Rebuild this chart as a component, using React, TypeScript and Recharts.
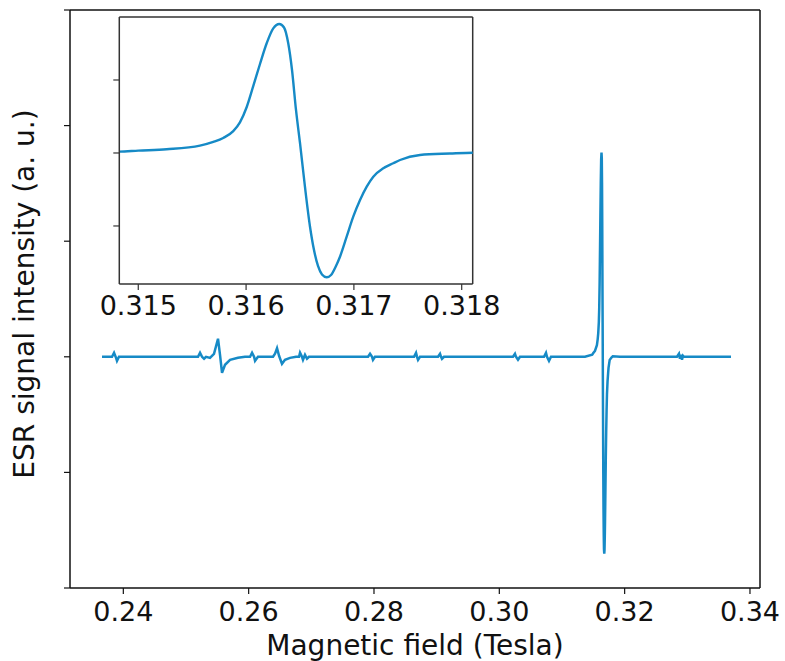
import React from 'react';
import { LineChart, Line, XAxis, YAxis, ReferenceLine } from 'recharts';

// field (T) and ESR signal (a.u.)
const fieldTesla = [
  0.2366, 0.2382, 0.23852, 0.23884, 0.23899, 0.23931,
  0.25192, 0.25224, 0.25256, 0.25288, 0.2532, 0.25383, 0.25447, 0.25511, 0.25543, 0.25575, 0.25623, 0.25703, 0.2583, 0.25942,
  0.26022, 0.26054, 0.26086, 0.26102, 0.26149,
  0.26389, 0.26421, 0.26453, 0.26485, 0.26532, 0.2658, 0.2666, 0.26756,
  0.26804, 0.2682, 0.26851, 0.26867, 0.26899, 0.26931, 0.26963,
  0.27905, 0.27937, 0.27969, 0.27984, 0.28016,
  0.28639, 0.28671, 0.28687, 0.28703, 0.28734,
  0.29022, 0.29054, 0.2907, 0.29085, 0.29117,
  0.30218, 0.3025, 0.30266, 0.30298, 0.3033,
  0.30713, 0.30745, 0.30761, 0.30793, 0.30825,
  0.31367,
  0.314824, 0.315, 0.315263, 0.315572, 0.315696, 0.315788, 0.315881, 0.315943, 0.316006, 0.316067,
  0.316129, 0.316191, 0.316252, 0.316308, 0.316352, 0.316391, 0.316426, 0.316463, 0.3165, 0.316546,
  0.316593, 0.31663, 0.316667, 0.316704, 0.316748, 0.316788, 0.316834, 0.316871, 0.316933, 0.316994,
  0.317057, 0.317119, 0.31718, 0.317273, 0.317365, 0.317428, 0.317613, 0.317891, 0.318107,
  0.31926,
  0.32835, 0.32867, 0.32883, 0.32899, 0.32915, 0.32931, 0.32947,
  0.33697,
];

const signalAU = [
  0, 0, 0.035, -0.009, -0.035, 0,
  0, 0.035, 0, -0.017, 0, -0.009, 0.026, 0.156, 0.017, -0.138, -0.069, -0.026, -0.009, 0,
  0, 0.035, 0, -0.035, 0,
  0, 0.026, 0.074, 0.009, -0.061, -0.026, -0.009, 0,
  0, 0.035, 0, -0.026, 0.017, -0.017, 0,
  0, 0.026, 0, -0.026, 0,
  0, 0.035, 0, -0.026, 0,
  0, 0.026, 0, -0.017, 0,
  0, 0.026, 0, -0.026, 0,
  0, 0.035, 0, -0.035, 0,
  0,
  0.018, 0.032, 0.051, 0.1, 0.151, 0.205, 0.3, 0.42, 0.63, 0.918,
  1.219, 1.503, 1.708, 1.767, 1.719, 1.503, 1.137, 0.589, 0.137, -0.462,
  -1.01, -1.33, -1.548, -1.664, -1.703, -1.671, -1.548, -1.421, -1.147, -0.873,
  -0.644, -0.462, -0.325, -0.21, -0.141, -0.096, -0.027, -0.007, 0.004,
  0,
  0, 0.026, -0.017, 0.017, -0.026, 0.009, 0,
  0,
];

const mainXTicks = [0.24, 0.26, 0.28, 0.3, 0.32, 0.34];
const mainYTicks = [-2, -1, 0, 1, 2, 3];
const insetXTicks = [0.315, 0.316, 0.317, 0.318];
const insetYTicks = [-1, 0, 1];

const data = fieldTesla.map((f, i) => ({ field: f, signal: signalAU[i] }));
const insetData = data.filter((d) => d.field > 0.3136 && d.field < 0.3194);

const FONT = '"DejaVu Sans", sans-serif';
const LINE = '#168ac6';
const MAIN_X: [number, number] = [0.23149, 0.3416];
const INSET_X: [number, number] = [0.314824, 0.318102];
const INSET_Y: [number, number] = [-1.795, 1.863];

const MainTick = ({ x, y, payload }: any) => (
  <text x={x} y={y} dy={25} textAnchor="middle" fontSize={27} fill="#111" fontFamily={FONT}>
    {payload.value.toFixed(2)}
  </text>
);

const InsetTick = ({ x, y, payload }: any) => (
  <text x={x} y={y} dy={23} textAnchor="middle" fontSize={27} fill="#111" fontFamily={FONT}>
    {payload.value.toFixed(3)}
  </text>
);

export default function App() {
  return (
    <div style={{ position: 'absolute', left: 0, top: 0, width: 785, height: 661, background: '#fff', fontFamily: FONT }}>
      <div style={{ position: 'absolute', left: 0, top: 0 }}>
        <LineChart width={785} height={661} data={data} margin={{ top: 10, right: 25, bottom: 0, left: 0 }}>
          <XAxis
            dataKey="field"
            type="number"
            domain={MAIN_X}
            ticks={mainXTicks}
            allowDataOverflow
            height={73}
            tickSize={6}
            tick={<MainTick />}
            axisLine={{ stroke: '#111', strokeWidth: 1.5 }}
            tickLine={{ stroke: '#111', strokeWidth: 1.2 }}
            label={{
              content: () => (
                <text x={415} y={655} textAnchor="middle" fontSize={28} fill="#111" fontFamily={FONT}>
                  Magnetic field (Tesla)
                </text>
              ),
            }}
          />
          <YAxis
            type="number"
            domain={[-2, 3]}
            ticks={mainYTicks}
            width={70}
            tickSize={6}
            tickFormatter={() => ''}
            axisLine={{ stroke: '#111', strokeWidth: 1.5 }}
            tickLine={{ stroke: '#111', strokeWidth: 1.2 }}
            label={{
              content: () => (
                <text transform="translate(34,294) rotate(-90)" textAnchor="middle" fontSize={28} fill="#111" fontFamily={FONT}>
                  ESR signal intensity (a. u.)
                </text>
              ),
            }}
          />
          <ReferenceLine x={MAIN_X[1]} stroke="#111" strokeWidth={1.5} ifOverflow="visible" />
          <ReferenceLine y={3} stroke="#111" strokeWidth={1.5} ifOverflow="visible" />
          <Line type="linear" dataKey="signal" stroke={LINE} strokeWidth={2.5} dot={false} isAnimationActive={false} />
        </LineChart>
      </div>

      {/* inset: zoom on the main line */}
      <div style={{ position: 'absolute', left: 0, top: 0 }}>
        <LineChart width={785} height={340} data={insetData} margin={{ top: 17, right: 312.3, bottom: 0, left: 0 }}>
          <XAxis
            dataKey="field"
            type="number"
            domain={INSET_X}
            ticks={insetXTicks}
            allowDataOverflow
            height={56}
            tickSize={6}
            tick={<InsetTick />}
            axisLine={{ stroke: '#333', strokeWidth: 1.5 }}
            tickLine={{ stroke: '#333', strokeWidth: 1.2 }}
          />
          <YAxis
            type="number"
            domain={INSET_Y}
            ticks={insetYTicks}
            allowDataOverflow
            width={119.3}
            tickSize={6}
            tickFormatter={() => ''}
            axisLine={{ stroke: '#333', strokeWidth: 1.5 }}
            tickLine={{ stroke: '#333', strokeWidth: 1.2 }}
          />
          <ReferenceLine x={INSET_X[1]} stroke="#333" strokeWidth={1.5} ifOverflow="visible" />
          <ReferenceLine y={INSET_Y[1]} stroke="#333" strokeWidth={1.5} ifOverflow="visible" />
          <Line type="monotone" dataKey="signal" stroke={LINE} strokeWidth={2.4} dot={false} isAnimationActive={false} />
        </LineChart>
      </div>
    </div>
  );
}
